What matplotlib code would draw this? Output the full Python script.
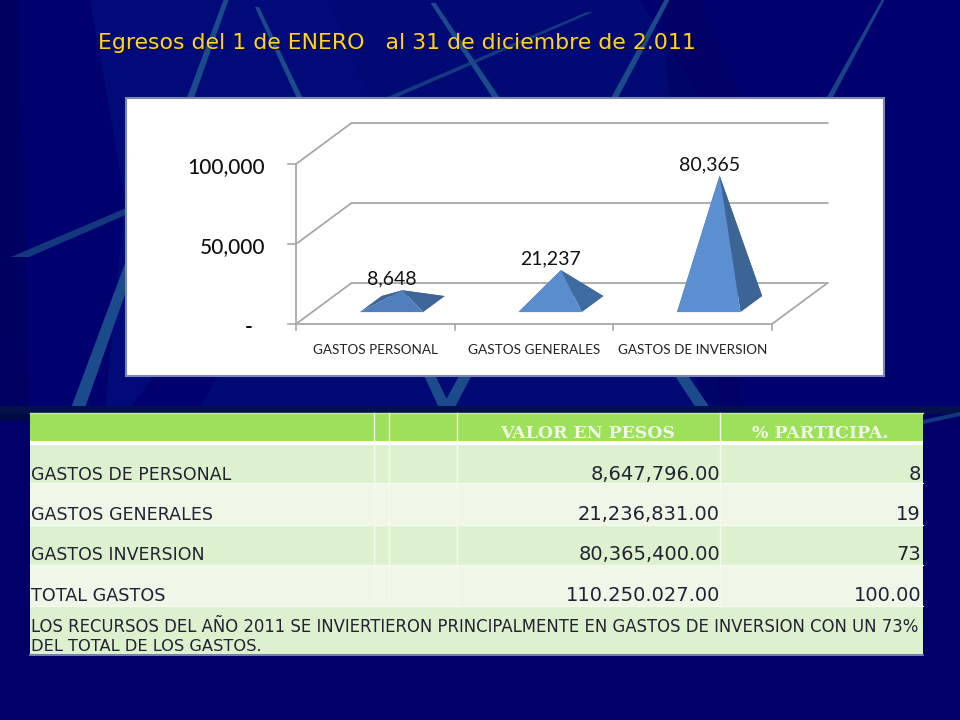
import matplotlib
matplotlib.use("Agg")
import matplotlib.pyplot as plt
from matplotlib.patches import Polygon, Rectangle

# ---- data ----
categories = ["GASTOS PERSONAL", "GASTOS GENERALES", "GASTOS DE INVERSION"]
values = [8648, 21237, 80365]
value_labels = ["8,648", "21,237", "80,365"]
y_ticks = [0, 50000, 100000]
y_tick_labels = ["-", "50,000", "100,000"]

title = "Egresos del 1 de ENERO   al 31 de diciembre de 2.011"
head_value = "VALOR EN PESOS"
head_pct = "% PARTICIPA."
row_names = ["GASTOS DE PERSONAL", "GASTOS GENERALES", "GASTOS INVERSION", "TOTAL GASTOS"]
row_pesos = ["8,647,796.00", "21,236,831.00", "80,365,400.00", "110.250.027.00"]
row_pct = ["8", "19", "73", "100.00"]
note_1 = "LOS RECURSOS DEL AÑO 2011 SE INVIERTIERON PRINCIPALMENTE EN GASTOS DE INVERSION CON UN 73%"
note_2 = "DEL TOTAL DE LOS GASTOS."

# ---- layout (pixels) ----
W, H = 960, 720
fig = plt.figure(figsize=(W / 100, H / 100), dpi=100)
bg = fig.add_axes([0, 0, 1, 1])
bg.set_xlim(0, W); bg.set_ylim(H, 0); bg.axis("off")
renderer = fig.canvas.get_renderer()


def fit(ax, x, y, s, width, ha="left", family="DejaVu Sans", weight="normal", color="#223", size=10, zorder=5, **kw):
    t = ax.text(x, y, s, ha=ha, va="baseline", family=family, weight=weight, color=color,
                fontsize=size, zorder=zorder, **kw)
    w = t.get_window_extent(renderer).width
    t.set_fontsize(size * width / w)
    return t


def streak(x0, y0, x1, y1, w0, w1, color="#1B4B8A", alpha=1.0):
    bg.add_patch(Polygon([(x0 - w0 / 2, y0), (x0 + w0 / 2, y0), (x1 + w1 / 2, y1), (x1 - w1 / 2, y1)],
                         closed=True, fc=color, ec="none", alpha=alpha, zorder=2))


# background
bg.add_patch(Rectangle((0, 0), W, H, fc="#000068", ec="none", zorder=0))
bg.add_patch(Rectangle((0, 0), W, 408, fc="#00006E", ec="none", zorder=0))
bg.add_patch(Polygon([(90, 0), (330, 0), (370, 97), (130, 408), (105, 408), (125, 200)], fc="#000A78", ec="none", zorder=1))
bg.add_patch(Polygon([(330, 0), (640, 0), (700, 97), (720, 408), (200, 408), (370, 97)], fc="#000974", ec="none", zorder=1))
bg.add_patch(Polygon([(0, 0), (18, 0), (30, 408), (0, 408)], fc="#000060", ec="none", zorder=1))
bg.add_patch(Polygon([(660, 0), (700, 0), (740, 97), (740, 408), (700, 408)], fc="#000060", ec="none", zorder=1, alpha=0.5))

streak(226, 0, 78, 408, 5, 14)
streak(257, 7, 445, 408, 4, 12)
streak(590, 12, 20, 257, 6, 18, color="#174382", alpha=0.85)
streak(433, 3, 703, 408, 5, 14)
streak(667, 0, 448, 408, 5, 13)
streak(883, 0, 830, 97, 3, 6, alpha=0.9)

# dark band above the table
bg.add_patch(Rectangle((0, 406), W, 8, fc="#03104A", ec="none", zorder=3))
bg.add_patch(Rectangle((0, 414), 30, 6, fc="#020A44", ec="none", zorder=3))
bg.add_patch(Polygon([(923, 420), (960, 412), (960, 416), (923, 424)], fc="#1B4F8E", ec="none", zorder=3, alpha=0.7))

# title
fit(bg, 99.2, 50.2, title, 597, color="#1A1400", zorder=4)
fit(bg, 98, 49, title, 597, color="#FFD22B", zorder=5)

# chart panel
bg.add_patch(Rectangle((126, 98), 758, 278, fc="white", ec="#7C88AE", lw=1.5, zorder=6))

# chart axes: x in category units, y in value units, mapped on the panel
PX_CAT = 158.67
PX_VAL = 160 / 100000
X0, Y0 = 296, 324
ax = fig.add_axes([126 / W, 1 - 376 / H, 758 / W, 278 / H], zorder=3)
ax.set_xlim((126 - X0) / PX_CAT, (884 - X0) / PX_CAT)
ax.set_ylim((Y0 - 376) / PX_VAL, (Y0 - 98) / PX_VAL)
ax.axis("off")
ax.patch.set_alpha(0)

DX = 55.5 / PX_CAT   # depth shift, category units
DY = 41 / PX_VAL     # depth shift, value units


def proj(cat, val, depth):
    return cat + depth * DX, val + depth * DY


n = len(categories)
GRID = "#A8A8A8"
for v in y_ticks:
    xs, ys = zip(proj(0, v, 0), proj(0, v, 1), proj(n, v, 1))
    ax.plot(xs, ys, color=GRID, lw=1.3, zorder=1, solid_joinstyle="miter")
    ax.plot([-8 / PX_CAT, 0], [v, v], color=GRID, lw=1.2, zorder=1)
ax.plot([0, 0], [0, y_ticks[-1]], color=GRID, lw=1.3, zorder=1)
xs, ys = zip(proj(0, 0, 0), proj(n, 0, 0), proj(n, 0, 1))
ax.plot(xs, ys, color=GRID, lw=1.3, zorder=1)
for i in range(n + 1):
    ax.plot([i, i], [0, -6 / PX_VAL], color=GRID, lw=1.2, zorder=1)

# y tick labels
for v, lab in zip(y_ticks, y_tick_labels):
    off = -43 if lab == "-" else -31
    ax.annotate(lab, (0, v), xytext=(off * 0.72, -3 * 0.72), textcoords="offset points",
                ha="right", va="center", fontsize=15, family="Lato", color="#111",
                weight="bold" if lab == "-" else "medium", zorder=5)

# pyramids
HALF = 0.2
D_FRONT, D_BACK = 0.29, 0.68
FRONT = ["#4F80BD", "#5A8DCE", "#5B8FD1"]
DARK = ["#3D6698", "#3F6CA0", "#3C6596"]
for i, (v, lab) in enumerate(zip(values, value_labels)):
    c = i + 0.5
    fl = proj(c - HALF, 0, D_FRONT)
    fr = proj(c + HALF, 0, D_FRONT)
    bl = proj(c - HALF, 0, D_BACK)
    br = proj(c + HALF, 0, D_BACK)
    apex = proj(c, v, (D_FRONT + D_BACK) / 2)
    ax.add_patch(Polygon([bl, fl, apex], fc=DARK[i], ec="none", zorder=2))
    ax.add_patch(Polygon([bl, br, apex], fc=DARK[i], ec="none", zorder=2))
    ax.add_patch(Polygon([fr, br, apex], fc=DARK[i], ec="none", zorder=3))
    ax.add_patch(Polygon([fl, fr, apex], fc=FRONT[i], ec="none", zorder=4))
    ax.annotate(lab, apex, xytext=(-10 * 0.72, 11 * 0.72), textcoords="offset points",
                ha="center", va="center", fontsize=14, family="Lato", color="#111", zorder=6)

# category labels
cat_widths = [125, 132, 149]
for i, (cat, wd) in enumerate(zip(categories, cat_widths)):
    t = ax.annotate(cat, (i + 0.5, 0), xytext=(0, -30 * 0.72), textcoords="offset points",
                    ha="center", va="baseline", fontsize=9, family="Lato", color="#222", zorder=6)
    t.set_fontsize(9 * wd / t.get_window_extent(renderer).width)

# table
TL, TR = 30, 923
bg.add_patch(Rectangle((TL, 445), TR - TL, 654 - 445, fc="#DEF1CF", ec="none", zorder=3))
bg.add_patch(Rectangle((TL, 413), TR - TL, 28, fc="#9DE05A", ec="none", zorder=3))
bg.add_patch(Rectangle((TL, 441), TR - TL, 4, fc="white", ec="none", zorder=3))
for y0, y1 in [(483, 525), (565, 606)]:
    bg.add_patch(Rectangle((TL, y0), TR - TL, y1 - y0, fc="#EFF7E9", ec="none", zorder=3))
for y in (483, 525, 565, 606):
    bg.plot([TL, TR], [y, y], color="#F6FBF2", lw=0.8, zorder=4)
for x in (374, 389, 457, 720):
    bg.plot([x, x], [413, 606], color="#F4FAEE", lw=1.0, zorder=4)
bg.plot([TL, TR], [654.5, 654.5], color="#8C97BE", lw=1.2, zorder=4)
bg.plot([TL, TR], [412.5, 412.5], color="#C9EBA6", lw=1.0, zorder=4)

fit(bg, 500, 438, head_value, 176, family="DejaVu Serif", weight="bold", color="#F2F8E8")
fit(bg, 752, 438, head_pct, 137, family="DejaVu Serif", weight="bold", color="#F2F8E8")

baselines = [480, 520, 560, 601]
name_widths = [200, 182, 172, 134]
NUM_SIZE = 14
for name, pes, pct, yb, nw in zip(row_names, row_pesos, row_pct, baselines, name_widths):
    fit(bg, 31, yb, name, nw)
    bg.text(720, yb, pes, ha="right", va="baseline", fontsize=NUM_SIZE, color="#223", zorder=5)
    bg.text(921, yb, pct, ha="right", va="baseline", fontsize=NUM_SIZE, color="#223", zorder=5)

fit(bg, 31, 632, note_1, 889)
fit(bg, 31, 651, note_2, 231)

fig.savefig("out.png", dpi=100)
